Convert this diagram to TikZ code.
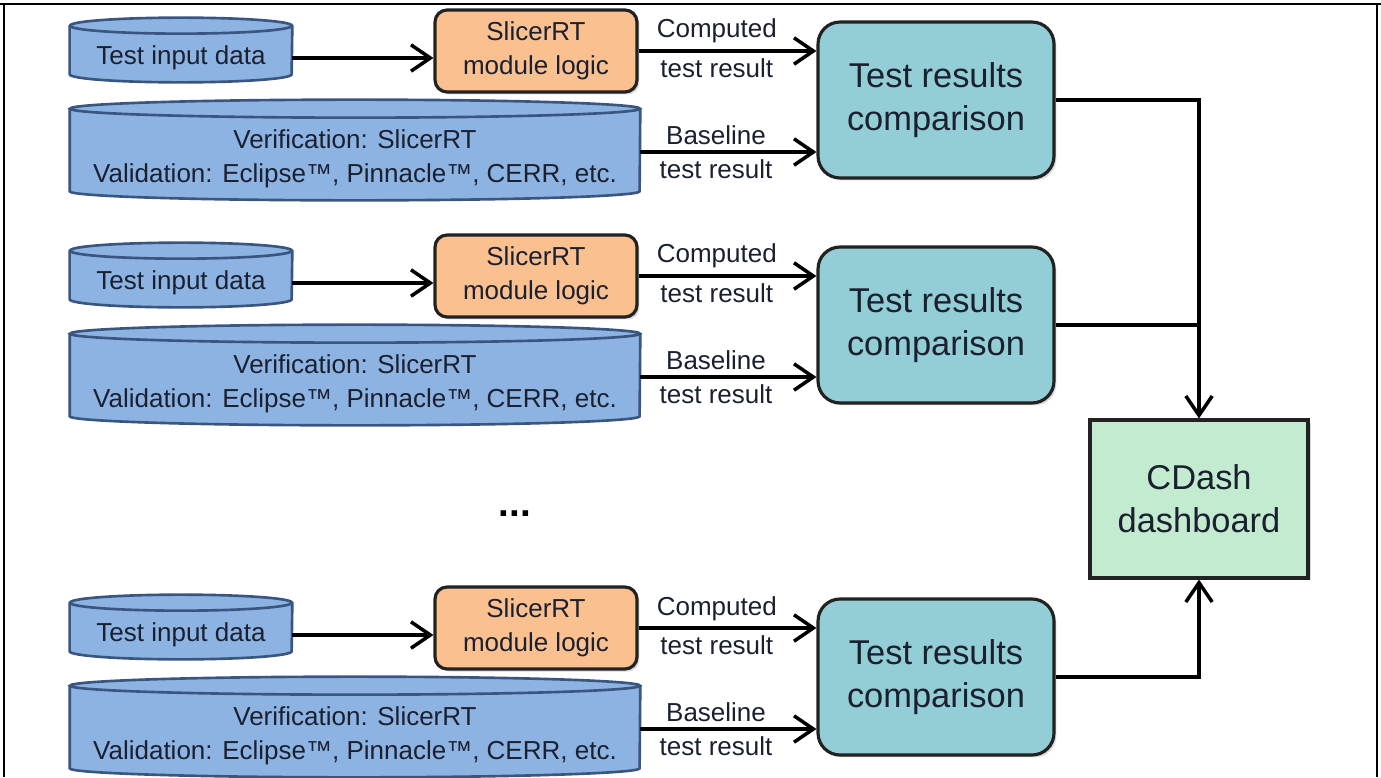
\documentclass[tikz,border=0pt]{standalone}
\usepackage{fontspec}
\setmainfont{Liberation Sans}
\usepackage{xcolor}
\usetikzlibrary{positioning,calc,arrows.meta,shadows,backgrounds}

\definecolor{dbblue}{HTML}{8DB3E2}
\definecolor{dbline}{HTML}{3A5680}
\definecolor{logicorange}{HTML}{FAC08F}
\definecolor{cmpteal}{HTML}{93CDD6}
\definecolor{dashgreen}{HTML}{C3EBCF}
\definecolor{boxline}{HTML}{222222}
\definecolor{txtdark}{HTML}{1A2030}

\newcommand{\smalltxt}{\fontsize{14.8}{19.5}\selectfont}
\newcommand{\bigtxt}{\fontsize{19.6}{24.5}\selectfont}

% cylinder drawn behind a named node: node, x radius, y radius
\newcommand{\dbshape}[3]{%
  \begin{pgfonlayer}{background}
    \fill[dbblue] ([yshift=#3]#1.north west) -- ([yshift=#3]#1.south west)
      arc[start angle=180, end angle=360, x radius=#2, y radius=#3]
      -- ([yshift=#3]#1.north east) -- cycle;
    \draw[dbline, line width=1.5pt] ([yshift=#3]#1.north west) -- ([yshift=#3]#1.south west)
      arc[start angle=180, end angle=360, x radius=#2, y radius=#3]
      -- ([yshift=#3]#1.north east);
    \filldraw[fill=dbblue, draw=dbline, line width=1.5pt] ([yshift=#3]#1.north) ellipse[x radius=#2, y radius=#3];
  \end{pgfonlayer}}

\tikzset{
  db/.style={inner sep=0pt, text=txtdark, align=center, font=\smalltxt},
  logicbox/.style={rectangle, rounded corners=0.24cm, draw=boxline, line width=1.8pt,
    fill=logicorange, minimum width=4.04cm, minimum height=1.64cm, align=center,
    text=txtdark, font=\smalltxt,
    drop shadow={opacity=0.3, shadow xshift=0.05cm, shadow yshift=-0.05cm}},
  cmpbox/.style={rectangle, rounded corners=0.44cm, draw=boxline, line width=1.8pt,
    fill=cmpteal, minimum width=4.72cm, minimum height=3.12cm, align=center,
    text=txtdark, font=\bigtxt,
    drop shadow={opacity=0.3, shadow xshift=0.05cm, shadow yshift=-0.05cm}},
  dashbox/.style={rectangle, draw=boxline, line width=1.8pt,
    fill=dashgreen, minimum width=4.36cm, minimum height=3.16cm, align=center,
    text=txtdark, font=\bigtxt,
    drop shadow={opacity=0.3, shadow xshift=0.05cm, shadow yshift=-0.05cm}},
  flow/.style={line width=2pt, -{Straight Barb[length=11pt, width=15pt]}},
  link/.style={line width=2pt},
  flowlbl/.style={font=\smalltxt, text=txtdark},
  framel/.style={line width=1.2pt}
}

\begin{document}
\begin{tikzpicture}[x=0.02cm, y=-0.02cm]
    \useasboundingbox (0,0) rectangle (1381,777);

    % Page frame
    \draw[framel] (0,4) -- (1381,4);
    \draw[framel] (4,4) -- (4,777);
    \draw[framel] (1377,4) -- (1377,777);

    % Dashboard
    \node[dashbox] (dash) at (1199,499) {CDash\\dashboard};

    % One test row per offset
    \foreach \r/\dy in {1/0, 2/225, 3/577} {
        \node[db, minimum width=4.44cm, minimum height=0.96cm] (in\r) at (181,58+\dy) {Test input data};
        \dbshape{in\r}{2.22cm}{0.16cm}
        \node[logicbox] (logic\r) at (536,51+\dy) {SlicerRT\\module logic};
        \node[db, minimum width=11.4cm, minimum height=1.64cm] (base\r) at (355,159+\dy)
            {Verification: SlicerRT\\Validation: Eclipse™, Pinnacle™, CERR, etc.};
        \dbshape{base\r}{5.7cm}{0.18cm}
        \node[cmpbox] (cmp\r) at (936,100+\dy) {Test results\\comparison};
        \coordinate (bs\r) at ([yshift=0.14cm]base\r.east);

        \draw[flow] (in\r.east) -- (in\r.east -| logic\r.west);
        \draw[flow] (logic\r.east) -- (logic\r.east -| cmp\r.west)
            node[flowlbl, pos=0.44, above] {Computed}
            node[flowlbl, pos=0.44, below] {test result};
        \draw[flow] (bs\r) -- (bs\r -| cmp\r.west)
            node[flowlbl, pos=0.43, above] {Baseline}
            node[flowlbl, pos=0.43, below] {test result};
    }

    % Ellipsis between rows
    \node[font=\fontsize{22}{26}\selectfont\bfseries] (dots) at (515,514) {...};

    % Results to dashboard
    \draw[flow] (cmp1.east) -| (dash.north);
    \draw[link] (cmp2.east) -- (cmp2.east -| dash.north);
    \draw[flow] (cmp3.east) -| (dash.south);
\end{tikzpicture}
\end{document}
